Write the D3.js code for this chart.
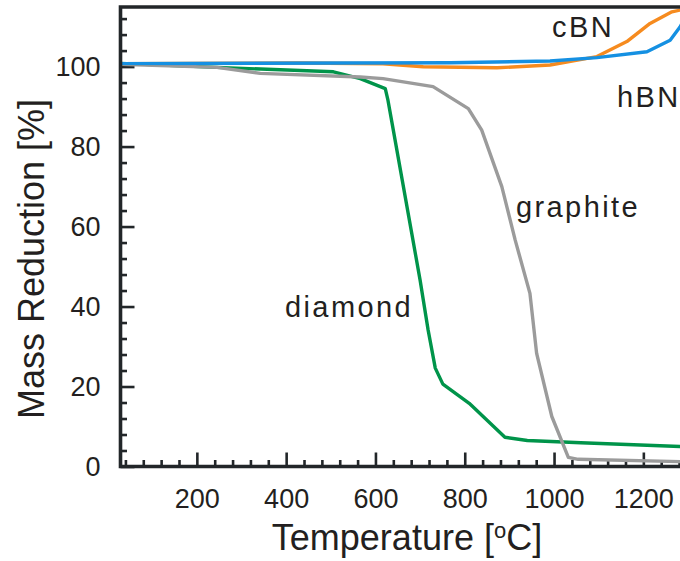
<!DOCTYPE html>
<html>
<head>
<meta charset="utf-8">
<script src="https://cdn.jsdelivr.net/npm/d3@7"></script>
<style>
  html, body { margin: 0; padding: 0; background: #fff; }
  svg { display: block; }
  text { font-family: "Liberation Sans", Arial, sans-serif; fill: #231f20; }
</style>
</head>
<body>
<svg id="chart" width="680" height="561"></svg>
<script>
// Thermogravimetric curves: mass (%) versus temperature (°C)
const tDiamond = [30, 245, 506, 566, 622, 628, 640, 660, 680, 700, 718, 734, 751, 810, 890, 940, 1060, 1290];
const mDiamond = [100.8, 99.8, 98.7, 97.0, 94.5, 91.6, 84.1, 71.6, 59.1, 46.6, 34.1, 24.6, 20.6, 15.8, 7.3, 6.5, 5.95, 4.95];

const tGraphite = [28, 245, 342, 566, 617, 729, 808, 838, 883, 913, 946, 961, 995, 1032, 1054, 1290];
const mGraphite = [100.6, 99.8, 98.3, 97.4, 97.0, 95.0, 89.5, 84.1, 70, 56.6, 43.3, 28.3, 12.5, 2.3, 1.8, 1.2];

const tCBN = [30, 431, 617, 707, 872, 991, 1096, 1163, 1215, 1264, 1290];
const mCBN = [100.75, 100.9, 100.7, 99.95, 99.7, 100.4, 102.5, 106.25, 110.8, 113.7, 114.3];

const tHBN = [30, 543, 767, 991, 1096, 1208, 1260, 1282, 1295];
const mHBN = [100.75, 100.9, 100.95, 101.4, 102.25, 103.7, 106.6, 109.9, 112.5];

const xTickLabels = [200, 400, 600, 800, 1000, 1200];
const yTickLabels = [0, 20, 40, 60, 80, 100];

const seriesNames = ["diamond", "graphite", "cBN", "hBN"];
const seriesColors = ["#00944a", "#9b9b9b", "#f68b1f", "#1590e2"];

const series = [
  { name: seriesNames[0], t: tDiamond, m: mDiamond, color: seriesColors[0] },
  { name: seriesNames[1], t: tGraphite, m: mGraphite, color: seriesColors[1] },
  { name: seriesNames[2], t: tCBN, m: mCBN, color: seriesColors[2] },
  { name: seriesNames[3], t: tHBN, m: mHBN, color: seriesColors[3] }
];

const svg = d3.select("#chart");
const plotLeft = 120.5, plotRight = 688, plotTop = 7, plotBottom = 466.5;

const x = d3.scaleLinear().domain([29, 1300]).range([plotLeft, plotRight]);
const y = d3.scaleLinear().domain([0, 114.9]).range([plotBottom, plotTop]);

const ink = "#222629";

// plot area clip
svg.append("defs").append("clipPath").attr("id", "plotClip")
  .append("rect").attr("x", plotLeft).attr("y", plotTop)
  .attr("width", plotRight - plotLeft).attr("height", plotBottom - plotTop);

// minor ticks
const xMinor = d3.range(40, 1300, 40).filter(v => v % 200 !== 0);
const yMinor = d3.range(4, 114, 4).filter(v => v % 20 !== 0);

function styleAxis(g) {
  g.select(".domain").remove();
  g.selectAll(".tick line").attr("stroke", ink).attr("stroke-width", 2.6);
  g.selectAll(".tick text")
    .style("font-family", '"Liberation Sans", Arial, sans-serif')
    .style("font-size", "27px")
    .attr("fill", "#231f20");
}

svg.append("g").attr("transform", `translate(0,${plotBottom})`)
  .call(d3.axisBottom(x).tickValues(xMinor).tickSize(-6.5).tickFormat(""))
  .call(styleAxis);
svg.append("g").attr("transform", `translate(0,${plotBottom})`)
  .call(d3.axisBottom(x).tickValues(xTickLabels).tickSize(-14).tickPadding(22).tickFormat(d3.format("d")))
  .call(styleAxis);

svg.append("g").attr("transform", `translate(${plotLeft},0)`)
  .call(d3.axisLeft(y).tickValues(yMinor).tickSize(-6.5).tickFormat(""))
  .call(styleAxis);
svg.append("g").attr("transform", `translate(${plotLeft},0)`)
  .call(d3.axisLeft(y).tickValues(yTickLabels).tickSize(-14).tickPadding(20).tickFormat(d3.format("d")))
  .call(styleAxis);

// data curves
const line = d3.line().x(d => x(d[0])).y(d => y(d[1]));
const plot = svg.append("g").attr("clip-path", "url(#plotClip)");
series.forEach(s => {
  plot.append("path")
    .datum(s.t.map((t, i) => [t, s.m[i]]))
    .attr("d", line)
    .attr("fill", "none")
    .attr("stroke", s.color)
    .attr("stroke-width", 3.4)
    .attr("stroke-linejoin", "round")
    .attr("stroke-linecap", "round");
});

// frame: left, bottom and top lines
svg.append("path")
  .attr("d", `M${plotRight},${plotTop}H${plotLeft}V${plotBottom}H${plotRight}`)
  .attr("fill", "none")
  .attr("stroke", ink)
  .attr("stroke-width", 3.6);

// curve labels
const labels = [
  { text: "diamond", x: 285, y: 317 },
  { text: "graphite", x: 516, y: 217 },
  { text: "cBN", x: 552, y: 37 },
  { text: "hBN", x: 617, y: 107 }
];
svg.selectAll("text.curve-label").data(labels).enter().append("text")
  .attr("class", "curve-label")
  .attr("x", d => d.x).attr("y", d => d.y)
  .style("font-size", "29px")
  .style("letter-spacing", "2.4px")
  .text(d => d.text);

// axis titles
svg.append("text")
  .attr("transform", "translate(44,259) rotate(-90)")
  .attr("text-anchor", "middle")
  .style("font-size", "36px")
  .text("Mass Reduction [%]");

const xt = svg.append("text")
  .attr("x", 407).attr("y", 550)
  .attr("text-anchor", "middle")
  .style("font-size", "36px");
xt.append("tspan").text("Temperature [");
xt.append("tspan").attr("dy", -12).style("font-size", "22px").text("o");
xt.append("tspan").attr("dy", 12).text("C]");
</script>
</body>
</html>
